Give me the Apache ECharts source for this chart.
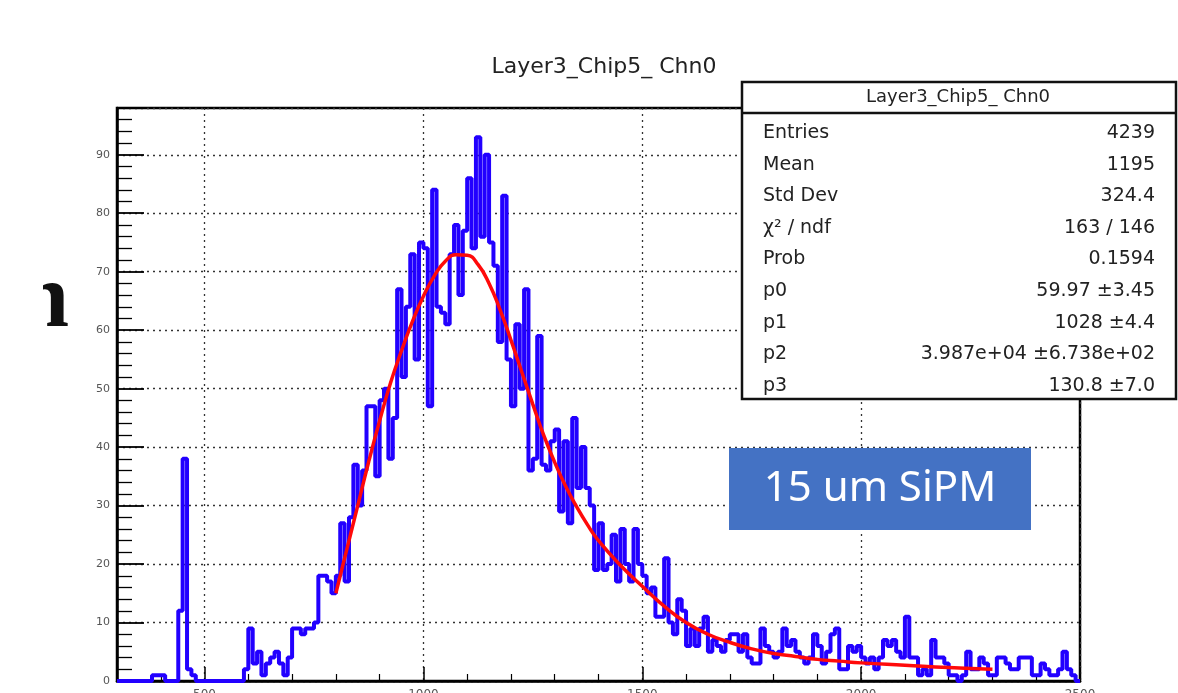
<!DOCTYPE html>
<html>
<head>
<meta charset="utf-8">
<title>Layer3_Chip5_ Chn0</title>
<script src="https://cdn.jsdelivr.net/npm/echarts@6/dist/echarts.min.js"></script>
<style>
  html, body { margin: 0; padding: 0; background: #fff; }
  #chart { width: 1178px; height: 693px; }
</style>
</head>
<body>
<div id="chart"></div>
<script>
// Histogram: ADC spectrum of one channel, 10-unit bins from 300 to 2500
const histTitle = 'Layer3_Chip5_ Chn0';
const binLow = 300;
const binWidth = 10;
const axisMax = 2500;
const counts = [
  0, 0, 0, 0, 0, 0, 0, 0, 1, 1,          // 300-390
  1, 0, 0, 0, 12, 38, 2, 1, 0, 0,        // 400-490
  0, 0, 0, 0, 0, 0, 0, 0, 0, 2,          // 500-590
  9, 3, 5, 1, 3, 4, 5, 3, 1, 4,          // 600-690
  9, 9, 8, 9, 9, 10, 18, 18, 17, 15,     // 700-790
  18, 27, 17, 28, 37, 30, 36, 47, 47, 35, // 800-890
  48, 50, 38, 45, 67, 52, 64, 73, 55, 75, // 900-990
  74, 47, 84, 64, 63, 61, 73, 78, 66, 77, // 1000-1090
  86, 74, 93, 76, 90, 75, 71, 58, 83, 55, // 1100-1190
  47, 61, 50, 67, 36, 38, 59, 37, 36, 41, // 1200-1290
  43, 29, 41, 27, 45, 33, 40, 33, 30, 19, // 1300-1390
  27, 19, 20, 25, 17, 26, 20, 17, 26, 20, // 1400-1490
  18, 15, 16, 11, 11, 21, 10, 8, 14, 12, // 1500-1590
  6, 9, 6, 9, 11, 5, 7, 6, 5, 7,         // 1600-1690
  8, 8, 5, 8, 4, 3, 3, 9, 6, 5,          // 1700-1790
  4, 5, 9, 6, 7, 5, 4, 3, 4, 8,          // 1800-1890
  6, 3, 5, 8, 9, 2, 2, 6, 5, 6,          // 1900-1990
  4, 3, 4, 2, 4, 7, 6, 7, 5, 4,          // 2000-2090
  11, 4, 4, 1, 2, 1, 7, 4, 4, 3,         // 2100-2190
  1, 1, 0, 1, 5, 2, 2, 4, 3, 1,          // 2200-2290
  1, 4, 4, 3, 2, 2, 4, 4, 4, 1,          // 2300-2390
  1, 3, 2, 1, 1, 2, 5, 2, 1, 0           // 2400-2490
];

// Landau (x) Gauss fit curve, sampled over the fit range 800-2300
const fitX = [800, 825, 850, 875, 900, 925, 950, 975, 1000, 1025, 1050, 1075, 1100, 1125, 1150,
              1175, 1200, 1225, 1250, 1275, 1300, 1325, 1350, 1375, 1400, 1450, 1500, 1550, 1600,
              1650, 1700, 1750, 1800, 1850, 1900, 1950, 2000, 2100, 2200, 2300];
const fitY = [15, 22.5, 30, 37.5, 44.5, 51, 56.5, 61.5, 65.8, 69.3, 71.8, 72.9, 72.8, 71.2, 68,
              63.5, 58.3, 52.8, 47.3, 42, 37.4, 33.3, 29.8, 26.7, 24, 19.8, 16.2, 12.8, 10,
              8, 6.6, 5.5, 4.7, 4.2, 3.7, 3.4, 3.1, 2.7, 2.3, 2.0];

// Statistics box rows
const statNames = ['Entries', 'Mean', 'Std Dev', 'χ² / ndf', 'Prob', 'p0', 'p1', 'p2', 'p3'];
const statValues = ['4239', '1195', '324.4', '163 / 146', '0.1594', '59.97 ±3.45', '1028 ±4.4',
                    '3.987e+04 ±6.738e+02', '130.8 ±7.0'];
const noteText = '15 um SiPM';

const yMax = 98;

const histData = counts.map((c, i) => [binLow + i * binWidth, c]);
histData.push([binLow + counts.length * binWidth, counts[counts.length - 1]]);
const fitData = fitX.map((x, i) => [x, fitY[i]]);

const chart = echarts.init(document.getElementById('chart'), null, { renderer: 'canvas' });

const statFont = { fontSize: 19, fontFamily: '"DejaVu Sans", sans-serif', fill: '#222' };
const boxLeft = 742, boxTop = 82, boxW = 434, boxH = 317;
const rowTop = 133, rowStep = 31.6;

const statGraphics = [];
statNames.forEach((name, i) => {
  statGraphics.push({
    type: 'text', x: 763, y: rowTop + i * rowStep, z: 102,
    style: Object.assign({ text: name, align: 'left', verticalAlign: 'middle' }, statFont)
  });
  statGraphics.push({
    type: 'text', x: 1155, y: rowTop + i * rowStep, z: 102,
    style: Object.assign({ text: statValues[i], align: 'right', verticalAlign: 'middle' }, statFont)
  });
});

const option = {
  animation: false,
  backgroundColor: '#fff',
  title: {
    text: histTitle,
    left: 599,
    top: 51,
    textAlign: 'center',
    textStyle: { fontFamily: '"DejaVu Sans", sans-serif', fontSize: 22, fontWeight: 'normal', color: '#222' }
  },
  grid: {
    left: 117, right: 98, top: 108, bottom: 12,
    containLabel: false,
    outerBoundsMode: 'none',
    show: true, borderColor: '#000', borderWidth: 2.5, backgroundColor: 'transparent'
  },
  xAxis: {
    type: 'value',
    min: binLow,
    max: axisMax,
    splitNumber: 5,
    axisLine: { show: true, onZero: false, lineStyle: { color: '#000', width: 2.5 } },
    axisTick: { show: true, inside: true, length: 14, lineStyle: { color: '#000', width: 1.5 } },
    minorTick: { show: true, splitNumber: 5, length: 7, lineStyle: { color: '#000', width: 1.2 } },
    splitLine: { show: true, lineStyle: { color: '#333', type: [2, 4], width: 1.3 } },
    axisLabel: {
      margin: 8, fontSize: 12, color: '#555', fontFamily: '"DejaVu Sans", sans-serif',
      showMinLabel: false, formatter: v => String(v)
    }
  },
  yAxis: {
    type: 'value',
    min: 0,
    max: yMax,
    interval: 10,
    axisLine: { show: true, lineStyle: { color: '#000', width: 2.5 } },
    axisTick: { show: true, inside: true, length: 27, lineStyle: { color: '#000', width: 1.8 } },
    minorTick: { show: true, splitNumber: 5, length: 15, lineStyle: { color: '#000', width: 1.3 } },
    splitLine: { show: true, lineStyle: { color: '#333', type: [2, 4], width: 1.3 } },
    axisLabel: { margin: 7, fontSize: 11, color: '#555', fontFamily: '"DejaVu Sans", sans-serif', showMaxLabel: false }
  },
  series: [
    {
      name: 'hist',
      type: 'line',
      data: histData,
      step: 'end',
      symbol: 'none',
      clip: true,
      z: 3,
      lineStyle: { color: '#2200ff', width: 4 }
    },
    {
      name: 'fit',
      type: 'line',
      data: fitData,
      smooth: 0.5,
      symbol: 'none',
      z: 4,
      lineStyle: { color: '#ff0a0a', width: 3.5 }
    }
  ],
  graphic: [
    // stray glyph at the left margin
    {
      type: 'text', x: 19, y: 303, z: 90,
      style: { text: 'n', fontSize: 90, fontWeight: 'bold', fontFamily: '"Liberation Serif", serif', fill: '#111', align: 'left', verticalAlign: 'middle' }
    },
    { type: 'rect', shape: { x: 0, y: 240, width: 43, height: 110 }, z: 91, style: { fill: '#fff' } },
    // statistics box
    {
      type: 'rect', z: 100,
      shape: { x: boxLeft, y: boxTop, width: boxW, height: boxH },
      style: { fill: '#fff', stroke: '#111', lineWidth: 2.5 }
    },
    {
      type: 'line', z: 101,
      shape: { x1: boxLeft, y1: 113, x2: boxLeft + boxW, y2: 113 },
      style: { stroke: '#111', lineWidth: 2.5 }
    },
    {
      type: 'text', x: 958, y: 97, z: 102,
      style: Object.assign({ text: histTitle, align: 'center', verticalAlign: 'middle' }, statFont, { fontSize: 18 })
    },
    ...statGraphics,
    // annotation box
    {
      type: 'rect', z: 100,
      shape: { x: 729, y: 448, width: 302, height: 82 },
      style: { fill: '#4472c4' }
    },
    {
      type: 'text', x: 880, y: 489, z: 101,
      style: { text: noteText, fontSize: 42, fontFamily: '"Noto Sans", sans-serif', fill: '#fff', align: 'center', verticalAlign: 'middle' }
    }
  ]
};

chart.setOption(option);
</script>
</body>
</html>
